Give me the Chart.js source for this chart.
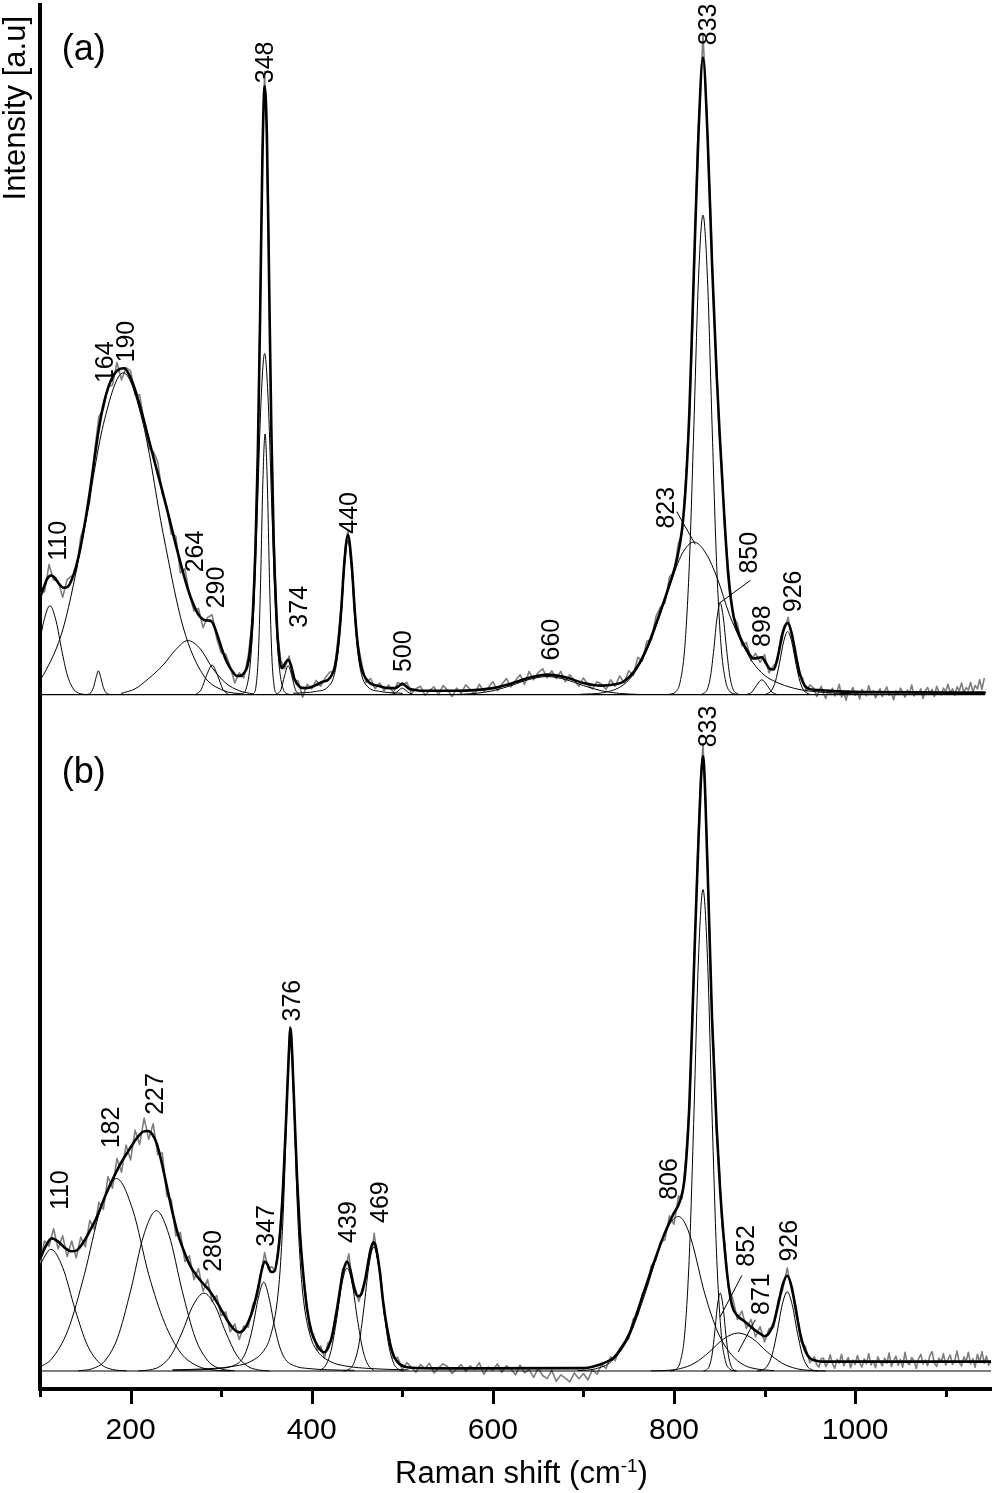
<!DOCTYPE html>
<html><head><meta charset="utf-8">
<script src="https://cdn.jsdelivr.net/npm/chart.js@4.4.1/dist/chart.umd.min.js"></script>
<style>html,body{margin:0;padding:0;background:#fff}canvas{display:block}</style>
</head><body>
<canvas id="c" width="995" height="1493"></canvas>
<script>
// ---------- x axis ticks ----------
const xTickValues = [100,200,300,400,500,600,700,800,900,1000,1100];
const xTickLabels = ['','200','','400','','600','','800','','1000',''];

// ---------- panel (a): measured spectrum (grey) ----------
const rawAx = [100,105,110,115,120,125,130,135,140,145,150,155,160,165,170,175,180,185,190,195,200,205,210,215,220,225,230,235,240,245,250,255,260,265,270,275,280,285,290,295,300,305,310,315,320,325,330,
335,338,341,344,346,348,350,352,355,358,362,366,370,375,
380,385,390,395,400,405,410,415,420,425,
430,434,437,440,443,446,
450,455,460,465,470,475,480,485,490,495,500,505,510,515,520,525,530,535,540,545,550,555,560,565,570,575,580,585,590,595,600,605,610,615,620,625,630,635,640,645,650,655,660,665,670,675,680,685,690,695,700,705,710,715,720,725,730,735,740,745,750,755,760,765,770,775,780,785,790,795,800,805,
809,813,817,820,823,826,829,832,835,838,841,844,847,850,853,856,860,
865,870,875,880,885,890,895,900,905,910,
914,918,922,926,930,934,938,942,946,950,
955,957.5,960,962.5,965,967.5,970,972.5,975,977.5,980,982.5,985,987.5,990,992.5,995,997.5,1000,1002.5,
1005,1007.5,1010,1012.5,1015,1017.5,1020,1022.5,1025,1027.5,1030,1032.5,1035,1037.5,1040,1042.5,1045,1047.5,1050,1052.5,
1055,1057.5,1060,1062.5,1065,1067.5,1070,1072.5,1075,1077.5,1080,1082.5,1085,1087.5,1090,1092.5,1095,1097.5,1100,1102.5,
1105,1107.5,1110,1112.5,1115,1117.5,1120,1122.5,1125,1127.5,1130,1132.5,1135,1137.5,1140,1142.5];
const rawAy = [15.8,16.0,20.2,17.8,17.7,15.1,17.9,18.4,19.1,24.5,26.7,30.1,37.4,43.2,44.4,47.8,48.1,51.6,48.9,50.8,50.3,46.6,46.6,42.3,38.3,37.8,36.2,31.1,29.2,24.9,24.6,18.9,19.6,15.5,13.0,13.4,10.4,12.0,12.4,8.8,6.5,6.3,4.4,1.8,3.4,2.6,6.1,
12.2,24.1,40.2,69.5,86.4,96.8,88.0,73.2,43.5,25.1,9.6,5.3,4.0,6.0,
2.3,2.1,-0.4,1.6,0.9,2.2,1.3,2.6,3.5,3.6,
10.0,16.0,22.8,25.6,21.0,17.2,
8.6,5.0,1.9,2.5,0.9,1.8,0.6,1.5,0.3,1.9,1.5,1.9,0.2,0.9,1.3,-0.1,0.6,1.2,0.0,1.4,0.7,-0.3,1.0,0.2,1.5,0.8,0.1,1.6,0.5,1.1,2.0,0.6,1.6,2.5,1.2,2.2,3.1,1.6,3.6,2.3,3.4,4.0,2.6,3.7,2.5,3.6,2.0,3.1,2.2,1.3,2.6,1.5,0.9,2.0,1.6,0.8,2.3,1.3,2.9,1.8,3.7,3.0,5.8,5.2,8.3,8.5,12.1,13.6,14.2,18.3,19.0,23.6,
25.0,33.6,43.3,54.5,69.8,85.5,93.6,102.5,94.2,83.1,72.4,59.1,51.2,40.5,35.3,25.6,19.6,
12.3,11.0,7.6,8.1,5.3,6.4,5.0,6.2,3.4,4.5,
5.0,9.1,10.1,12.0,9.0,7.2,3.1,2.6,0.5,1.5,
0.9,-0.3,0.4,1.3,0.2,-0.6,0.7,0.1,1.0,-0.2,0.5,1.6,-0.4,0.3,-0.9,0.6,0.2,1.1,-0.1,0.4,
-0.7,0.8,0.3,-0.2,1.4,0.1,0.6,-0.5,0.2,0.9,-0.3,0.5,1.2,-0.1,0.3,-0.8,0.6,0.0,1.0,0.4,
-0.4,0.7,0.2,1.5,-0.2,0.5,0.1,0.9,-0.6,0.6,1.1,0.2,0.8,-0.3,1.3,0.4,0.0,1.0,0.5,1.6,
0.2,0.9,-0.1,1.2,0.6,1.8,0.3,1.1,0.7,1.9,0.4,1.4,0.9,2.3,0.8,2.5];

// ---------- panel (a): fitted envelope (thick) ----------
const fitAx = [100,104,108,112,116,121,126,131,137,143,149,155,160,165,170,176,182,188,193,198,204,210,216,222,228,235,242,249,256,263,270,276,281,286,290,294,298,303,308,313,317,321,325,329,332,335,338,340.5,343,345.5,348,350.5,353,355.5,358,361,364,367,370,374,377,381,386,392,398,405,412,418,425,429,432.5,436,440,444,447.5,451,455,462,475,486,492,496,500,504,508,514,520,560,580,600,620,640,660,680,700,720,735,744,757,770,783,796,803,809,813,817,822,827,832,837,842,847,851,855,860,866,874,881,888,893,897,901,905,910,914,918,921,925.5,930,934.5,939,944,950,960,982,1010,1143];
const fitAy = [15.0,16.6,18.0,18.5,18.2,17.2,16.6,16.8,18.6,21.7,26.2,31.5,36.5,41.3,45.0,48.0,49.8,50.6,50.7,49.8,47.8,45.0,41.9,38.6,35.4,31.7,27.8,23.8,20.0,16.5,13.8,12.2,11.6,11.5,11.3,10.0,8.3,6.2,4.6,3.5,2.9,2.9,3.3,4.4,7.0,12.7,23.3,37.5,58.5,83,94.5,87,64,40.5,24,12.5,6.1,4.1,4.7,5.4,4.6,2.4,1.3,1.0,1.1,1.5,2.0,2.3,4.1,7.5,13,20.5,24.8,20.5,13,7.5,4.1,2.1,1.3,1.0,1.0,1.3,1.7,1.3,0.9,0.7,0.6,0.6,0.7,1.0,1.7,2.6,3.1,2.7,1.8,1.4,1.6,2.0,3.8,7.2,12.1,17.5,20.9,25.8,32.5,44,66,87,99,87,67,50,39,29,18.4,12,8.6,6.8,5.6,5.7,5.8,5.0,4.1,3.9,5.5,8.2,10.1,11.1,9.5,6.1,3.2,1.45,0.85,0.7,0.5,0.38,0.3];

// ---------- panel (a): fitted components (thin) ----------
const a110x=[100,104,111,118,124,130,137,145,152], a110y=[8.4,11.3,13.8,11.3,6.9,3.1,0.86,0.12,0];
const a164x=[150,155,159,162,164.5,167,170,174,179], a164y=[0,0.15,1.1,2.7,3.7,2.7,1.1,0.15,0];
const a190x=[100,104,126,148,170,192,214,236,258,280,302,324], a190y=[2.3,3.1,10.5,25,42,50,42,25,10.5,3.1,0.66,0.07];
const a264x=[190,205,220,236,250,263,277,290,305,320,335], a264y=[0.2,0.9,2.5,4.6,7.0,8.4,7.1,4.2,1.8,0.6,0.1];
const a290x=[272,278,284,290,296,302,308], a290y=[0,0.8,3.0,4.6,3.0,0.8,0];
const a348x=[318,323,328,332,336,340,344,348,352,356,360,364,368,373,378], a348y=[0,0.13,1.1,4.6,13.3,28.7,45.5,53,45.5,28.7,13.3,4.6,1.1,0.13,0];
const a348nx=[333,336,338.5,341,343.5,346,348.5,351,353.5,356,358.5,361,364], a348ny=[0,0.2,1.3,5.9,17.2,32.7,40.5,32.7,17.2,5.9,1.3,0.2,0];
const a374x=[362,366,370,374,378,382,386], a374y=[0.08,0.76,2.9,4.5,2.9,0.76,0.08];
const a440x=[380,405,418,425,429,432.5,436,440,444,447.5,451,455,462,475,500], a440y=[0.2,0.5,1.2,3.1,6.5,12,19.5,24,19.5,12,6.5,3.1,1.2,0.5,0.2];
const a500x=[486,492,496,500,504,508,514], a500y=[0,0.2,0.65,1.0,0.65,0.2,0];
const a660x=[560,580,600,620,640,660,680,700,720,740,760], a660y=[0.03,0.18,0.59,1.4,2.35,2.8,2.35,1.4,0.59,0.18,0.03];
const a823x=[697,722,744,757,770,783,796,809,822,835,848,861,874,887,900,912,932,952,982,1010], a823y=[0.05,0.3,1.5,3.5,6.9,11.8,17.2,21.9,23.7,22,18,12.5,8.3,5.0,3.0,2.0,1.0,0.5,0.2,0.05];
const a833x=[794,802,807,812,817,822,827,832,837,842,847,852,857,862,870], a833y=[0.02,0.43,2.1,7.5,20.5,42,64.5,74.5,64.5,42,20.5,7.5,2.1,0.43,0.02];
const a850x=[831,837,840.5,844,847.5,851,854.5,858,861.5,865,871], a850y=[0.06,0.9,3.0,7.1,11.9,14.2,11.9,7.1,3.0,0.9,0.06];
const a898x=[880,886,891,897,903,908,914], a898y=[0,0.4,1.4,2.3,1.4,0.4,0];
const a926x=[901.5,907.5,912,916.5,921,925.5,930,934.5,939,943.5,949.5], a926y=[0.07,0.61,2.06,4.9,8.2,9.8,8.2,4.9,2.06,0.61,0.07];
const baseAx=[100,1143], baseAy=[0,0];

// ---------- panel (a): peak labels ----------
const labelsA = ['110','164','190','264','290','348','374','440','500','660','823','850','898','926','833'];
const labelAX = [118.4,170.2,193.4,270.6,293.8,347.5,384.8,440.5,499.7,663,790.2,882.1,895.9,930,836];
const labelAY = [20.8,48.4,51.6,19.0,13.4,95.0,10.4,25.0,3.5,5.3,25.8,18.8,7.4,12.8,100.9];
const leadA823x=[803.1,823.3], leadA823y=[28.4,23.4];
const leadA850x=[883.9,849], leadA850y=[17.7,14.1];

// ---------- panel (b): measured spectrum (grey) ----------
const rawBx = [100,105,110,115,120,125,130,135,140,145,150,155,160,165,170,175,180,185,190,195,200,205,210,215,220,225,230,235,240,245,250,255,260,265,270,275,280,285,290,295,300,305,310,315,320,325,330,335,340,
344,348,352,356,360,364,368,371,374,376,378,380,383,386,390,394,398,402,406,410,414,418,422,426,430,434,438,441,444,448,452,456,460,464,467,469,472,476,480,485,490,495,
500,505,510,515,520,525,530,535,540,545,550,555,560,565,570,575,580,585,590,595,600,605,610,615,620,625,630,635,640,645,650,655,660,665,670,675,680,685,690,695,700,705,710,715,720,725,730,735,740,745,750,755,760,765,770,775,780,785,790,795,800,805,
809,813,817,820,823,826,829,832,835,838,841,844,847,850,853,856,860,
865,870,875,880,885,890,895,900,905,910,915,920,925,930,935,940,945,950,
955,957.5,960,962.5,965,967.5,970,972.5,975,977.5,980,982.5,985,987.5,990,992.5,995,997.5,1000,1002.5,
1005,1007.5,1010,1012.5,1015,1017.5,1020,1022.5,1025,1027.5,1030,1032.5,1035,1037.5,1040,1042.5,1045,1047.5,1050,1052.5,
1055,1057.5,1060,1062.5,1065,1067.5,1070,1072.5,1075,1077.5,1080,1082.5,1085,1087.5,1090,1092.5,1095,1097.5,1100,1102.5,
1105,1107.5,1110,1112.5,1115,1117.5,1120,1122.5,1125,1127.5,1130,1132.5,1135,1137.5,1140,1142.5,1145,1147.5,1150];
const rawBy = [16.6,20.2,19.4,22.1,19.0,21.0,17.8,20.2,17.6,20.8,19.3,23.4,22.0,26.2,25.1,30.2,28.4,33.0,30.9,35.1,32.8,37.4,35.2,39.3,36.0,38.4,33.6,33.9,27.2,26.6,21.0,21.5,17.0,17.9,14.2,15.9,12.4,14.2,10.8,11.7,8.6,9.2,6.1,7.3,4.9,7.0,6.8,10.4,11.5,
15.0,18.4,15.9,16.2,15.5,20.5,27.5,37.0,48.0,53.5,51.5,43.5,33.0,23.5,15.8,11.0,6.2,5.7,3.2,3.9,2.0,4.4,4.6,8.7,10.7,15.8,16.4,18.2,14.6,12.9,10.8,12.9,14.6,18.6,19.0,21.4,18.1,15.3,8.9,5.9,2.0,2.1,
0.2,1.3,0.6,-0.2,1.0,0.4,1.2,-0.3,0.5,1.1,0.7,-0.4,0.3,1.0,-0.1,0.8,0.2,1.3,-0.5,0.6,0.1,1.1,-0.2,0.8,0.3,-0.6,0.9,-0.3,0.2,-1.0,0.4,-0.7,-1.2,0.1,-1.6,-0.6,-1.1,-1.7,-0.3,-1.2,-0.4,-1.4,0.2,-0.5,1.0,0.4,2.2,1.6,3.5,4.4,5.0,8.1,8.7,12.0,13.1,16.4,17.2,20.0,20.4,24.1,22.8,27.2,
26.8,33.0,41.0,53.0,66.5,80.0,91.0,97.5,88.0,74.5,58.5,49.5,37.0,31.5,22.5,20.0,13.0,
11.2,8.0,9.3,6.6,8.0,5.3,6.9,4.5,6.6,6.8,11.0,12.6,16.0,12.4,10.0,4.6,3.8,1.3,
2.2,1.0,0.6,1.9,2.0,0.7,1.3,2.5,1.1,0.4,1.8,1.2,2.6,0.8,1.5,2.1,0.5,1.7,1.0,2.4,
1.3,0.6,1.9,1.1,2.7,0.9,1.6,0.5,2.2,1.4,0.8,2.0,1.2,2.8,0.7,1.5,2.3,0.9,1.8,0.6,
2.9,1.3,1.0,2.1,1.6,0.4,1.9,2.6,1.1,1.7,0.8,2.4,3.0,1.2,0.7,2.0,1.4,2.7,0.9,1.8,
2.5,1.0,1.6,3.1,1.3,0.8,2.2,1.5,2.9,1.1,1.9,0.6,2.6,1.4,3.0,1.2,2.3,0.9,1.6];

// ---------- panel (b): fitted envelope (thick) ----------
const fitBx = [100,106,113,120,127,134,140,147,154,163,172,181,190,199,207,214,219,224,229,234,240,246,252,259,266,273,280,287,294,301,308,314,320,325,330,336,341,345,348,351,355,358,362,366,369,372,374.5,376.5,378.5,381,384,387,391,395,400,405,410,414,418,422,426,430,434,439,443,447,451,455,459,463,466,468.5,471,475,479,483,487,491,496,502,510,540,700,711,722,733,742,751,759,768,777,788,799,807,812,817,822,827,832,837,842,847,851,855,859,864,870,877,884,890,895,900,905,910,915,920,925,930,935,940,945,950,957,965,1150];
const fitBy = [17.4,19.3,20.6,20.1,19.2,18.6,18.7,19.8,21.5,24.0,27.2,30.0,32.5,34.5,36.2,37.2,37.3,36.8,35.3,32.6,28.7,24.8,21.4,18.6,16.3,14.8,13.6,12.5,11.0,9.3,7.6,6.5,6.0,6.4,7.6,10.0,13.0,15.8,17.0,16.6,15.4,15.4,17.5,23.0,30.5,40,48.5,53.3,49,40,29.5,21.5,14.5,9.5,6.0,4.3,3.2,2.9,3.6,5.2,8.0,11.5,15.0,17.0,15.5,12.8,11.6,12.0,14.2,17.4,19.4,20.0,19.2,15.6,10.6,6.8,3.9,2.2,1.2,0.7,0.5,0.4,0.45,0.7,1.2,2.0,3.6,5.9,9.0,12.8,16.5,20.8,24.3,26.6,30.3,41.5,62.4,82.4,95.5,78.4,54.7,38,28,20.5,14.7,10.2,8.6,7.8,7.0,6.3,5.8,5.4,5.9,7.4,10.3,13.4,14.8,13.0,9.1,5.4,3.1,2.0,1.6,1.45,1.45];

// ---------- panel (b): fitted components (thin) ----------
const b110x=[100,112,125,139,152,166,180,195], b110y=[16.5,18.9,16.1,9.45,4.1,1.2,0.23,0.03];
const b182x=[100,113,131,149,166.5,184.5,202.5,220,237.5,255.5,273.5,291.5,310], b182y=[0.6,1.9,6.4,15,25,29.9,25,15,7.5,2.8,0.8,0.15,0];
const b227x=[142.5,157.5,171.5,185.5,200,214.5,228.5,242.5,257,271.5,285.5,299.5,314.5], b227y=[0.03,0.34,1.56,5.1,12.45,21.1,24.9,21.1,12.45,5.1,1.56,0.34,0.03];
const b280x=[209,221,233,245,257,269,281,293,305,317,329,341,353], b280y=[0.02,0.16,0.76,2.5,6.05,10.2,12.1,10.2,6.05,2.5,0.76,0.16,0.02];
const b347x=[247,277,299,311,323,329,335,341,347,353,359,365,371,383,395,417,447], b347y=[0.1,0.19,0.4,0.7,1.8,3.6,6.9,11.3,13.8,11.3,6.9,3.6,1.8,0.7,0.4,0.19,0.1];
const b376x=[246.5,286.5,316.5,331.5,346.5,354,361.5,365.25,369,372.75,376.5,380.25,384,387.75,391.5,399,406.5,421.5,436.5,466.5,506.5], b376y=[0.17,0.36,0.8,1.4,3.06,5.2,10.4,16,26,41.6,52,41.6,26,16,10.4,5.2,3.06,1.4,0.8,0.36,0.17];
const b439x=[410,416,421.75,427.5,433.25,439,444.75,450.5,456.25,462,468], b439y=[0.15,1.0,3.4,8,13.5,16,13.5,8,3.4,1.0,0.15];
const b469x=[435.5,441,446.5,452,457.5,463,468.5,474,479.5,485,490.5,496,501.5], b469y=[0,0.25,1.2,4.05,9.65,16.2,19.3,16.2,9.65,4.05,1.2,0.25,0];
const b806x=[694,713,731,750,768,786.5,796,805,812,819.5,834,848.5,863,877.5,892,910], b806y=[0.05,0.33,1.5,5.2,12,20.2,23,24,23,20.2,12,6.0,2.6,0.9,0.3,0.05];
const b833x=[796,802,807,812,817,822,827,832,837,842,847,852,857,862,868], b833y=[0.02,0.26,1.47,6.05,18.2,39.9,64,74.8,64,39.9,18.2,6.05,1.47,0.26,0.02];
const b852x=[833,836,839,842,845,848,851,854,857,860,863,866,869], b852y=[0,0.16,0.76,2.5,6.05,10.2,12.1,10.2,6.05,2.5,0.76,0.16,0];
const b871x=[775,791,807,823,839,855,871,887,903,919,935,951,967], b871y=[0.01,0.08,0.37,1.24,2.95,5.0,5.9,5.0,2.95,1.24,0.37,0.08,0.01];
const b926x=[892,897.5,903,908.5,914,919.5,925,930.5,936,941.5,947,952.5,958], b926y=[0,0.16,0.77,2.6,6.15,10.3,12.3,10.3,6.15,2.6,0.77,0.16,0];
const baseBx=[100,1150], baseBy=[0,0];

// ---------- panel (b): peak labels ----------
const labelsB = ['110','182','227','280','347','376','439','469','806','833','852','871','926'];
const labelBX = [120.9,176.8,225.7,290.1,348.9,377.6,439,473.9,793.8,836,878.4,895,926.2];
const labelBY = [25.0,34.6,39.8,15.4,19.3,54.3,19.9,23.0,26.6,96.9,16.2,8.7,17.0];
const leadB852x=[874.8,850.9], leadB852y=[14.8,8.4];
const leadB871x=[889.5,871.1], leadB871y=[7.9,3.0];

// ---------- panel tags / titles ----------
const panelTags = ['(a)','(b)'];
const tagX = 124, tagAY = 98.6, tagBY = 91.3;
const yTitle = 'Intensity [a.u]';
const xTitleMain = 'Raman shift (cm', xTitleSup = '-1', xTitleEnd = ')';

// ====================================================================
const FONT = '"Liberation Sans", Arial, Helvetica, sans-serif';
const pts = (xs, ys) => xs.map((x, i) => ({x, y: ys[i]}));
function series(xs, ys, axis, color, width, smooth) {
  return {data: pts(xs, ys), yAxisID: axis, borderColor: color, borderWidth: width,
    pointRadius: 0, fill: false, tension: 0, cubicInterpolationMode: smooth ? 'monotone' : 'default',
    borderJoinStyle: 'round', borderCapStyle: 'round'};
}
const compsA = [[a110x,a110y],[a164x,a164y],[a190x,a190y],[a264x,a264y],[a290x,a290y],[a348x,a348y],[a348nx,a348ny],[a374x,a374y],[a440x,a440y],[a500x,a500y],[a660x,a660y],[a823x,a823y],[a833x,a833y],[a850x,a850y],[a898x,a898y],[a926x,a926y]];
const compsB = [[b110x,b110y],[b182x,b182y],[b227x,b227y],[b280x,b280y],[b347x,b347y],[b376x,b376y],[b439x,b439y],[b469x,b469y],[b806x,b806y],[b833x,b833y],[b852x,b852y],[b871x,b871y],[b926x,b926y]];

const datasets = [];
// first dataset is drawn on top
datasets.push(series(fitAx, fitAy, 'ya', '#000', 2.6, true));
datasets.push(series(fitBx, fitBy, 'yb', '#000', 2.6, true));
compsA.forEach(c => datasets.push(series(c[0], c[1], 'ya', '#000', 1, true)));
compsB.forEach(c => datasets.push(series(c[0], c[1], 'yb', '#000', 1, true)));
datasets.push(series(leadA823x, leadA823y, 'ya', '#000', 1, false));
datasets.push(series(leadA850x, leadA850y, 'ya', '#000', 1, false));
datasets.push(series(leadB852x, leadB852y, 'yb', '#000', 1, false));
datasets.push(series(leadB871x, leadB871y, 'yb', '#000', 1, false));
datasets.push(series(baseAx, baseAy, 'ya', '#000', 1.2, false));
datasets.push(series(baseBx, baseBy, 'yb', '#000', 1.2, false));
datasets.push(series(rawAx, rawAy, 'ya', '#7d7d7d', 1.6, false));
datasets.push(series(rawBx, rawBy, 'yb', '#7d7d7d', 1.6, false));

const decor = {
  id: 'decor',
  afterDraw(chart) {
    const {ctx, chartArea} = chart;
    const x = chart.scales.x, ya = chart.scales.ya, yb = chart.scales.yb;
    ctx.save();
    // tick marks
    ctx.strokeStyle = '#000'; ctx.lineWidth = 3; ctx.lineCap = 'butt';
    xTickValues.forEach((v, i) => {
      const px = Math.round(x.getPixelForValue(v)) + 0.5;
      const len = xTickLabels[i] ? 15 : 8;
      ctx.beginPath(); ctx.moveTo(px, chartArea.bottom); ctx.lineTo(px, chartArea.bottom + len); ctx.stroke();
    });
    // peak labels
    ctx.fillStyle = '#000';
    const fs = 25;
    ctx.font = fs + 'px ' + FONT; ctx.textAlign = 'left'; ctx.textBaseline = 'alphabetic';
    const put = (txt, xv, yv, sc) => {
      const px = x.getPixelForValue(xv), py = sc.getPixelForValue(yv);
      ctx.save(); ctx.translate(px + 0.358 * fs, py); ctx.rotate(-Math.PI / 2); ctx.fillText(txt, 0, 0); ctx.restore();
    };
    labelsA.forEach((t, i) => put(t, labelAX[i], labelAY[i], ya));
    labelsB.forEach((t, i) => put(t, labelBX[i], labelBY[i], yb));
    // panel tags
    ctx.font = '36px ' + FONT;
    ctx.fillText(panelTags[0], x.getPixelForValue(tagX), ya.getPixelForValue(tagAY));
    ctx.fillText(panelTags[1], x.getPixelForValue(tagX), yb.getPixelForValue(tagBY));
    // y title
    ctx.font = '31px ' + FONT;
    ctx.save(); ctx.translate(25, chartArea.top + 11); ctx.rotate(-Math.PI / 2);
    ctx.textAlign = 'right'; ctx.fillText(yTitle, 0, 0); ctx.restore();
    // x title with superscript
    ctx.font = '31px ' + FONT;
    const w1 = ctx.measureText(xTitleMain).width, w3 = ctx.measureText(xTitleEnd).width;
    ctx.font = '19px ' + FONT;
    const w2 = ctx.measureText(xTitleSup).width;
    const cx = (chartArea.left + chartArea.right) / 2 + 6;
    let sx = cx - (w1 + w2 + w3) / 2;
    const by = 1483;
    ctx.textAlign = 'left';
    ctx.font = '31px ' + FONT; ctx.fillText(xTitleMain, sx, by); sx += w1;
    ctx.font = '19px ' + FONT; ctx.fillText(xTitleSup, sx, by - 11); sx += w2;
    ctx.font = '31px ' + FONT; ctx.fillText(xTitleEnd, sx, by);
    ctx.restore();
  }
};

new Chart(document.getElementById('c'), {
  type: 'line',
  data: {datasets},
  options: {
    responsive: false, animation: false, devicePixelRatio: 1,
    layout: {padding: {top: 5, right: 4, left: 0, bottom: 0}},
    plugins: {legend: {display: false}, tooltip: {enabled: false}},
    scales: {
      x: {type: 'linear', position: 'bottom', min: 100, max: 1150,
        afterBuildTicks: s => { s.ticks = xTickValues.map(v => ({value: v})); },
        ticks: {autoSkip: false, maxRotation: 0, minRotation: 0, padding: 24, color: '#000',
          font: {size: 30, family: FONT},
          callback: v => { const i = xTickValues.indexOf(v); return i >= 0 ? xTickLabels[i] : ''; }},
        grid: {display: false, drawTicks: false},
        border: {display: true, color: '#000', width: 4},
        afterFit: s => { s.height = 104; }},
      yb: {type: 'linear', position: 'left', stack: 'panels', stackWeight: 105.1, min: -2.8, max: 102.3,
        ticks: {display: false}, grid: {display: false, drawTicks: false},
        border: {display: true, color: '#000', width: 4},
        afterFit: s => { s.width = 40; }},
      ya: {type: 'linear', position: 'left', stack: 'panels', stackWeight: 109.95, min: -2.8, max: 107.15,
        ticks: {display: false}, grid: {display: false, drawTicks: false},
        border: {display: true, color: '#000', width: 4},
        afterFit: s => { s.width = 40; }}
    }
  },
  plugins: [decor]
});
</script>
</body></html>
